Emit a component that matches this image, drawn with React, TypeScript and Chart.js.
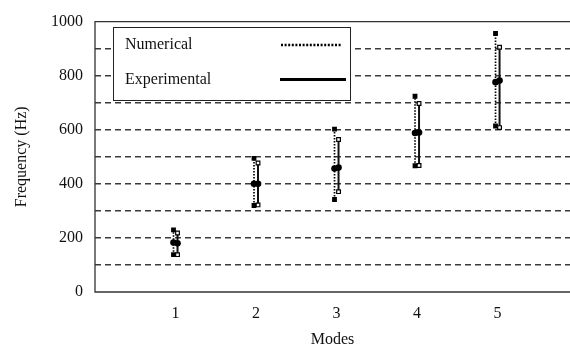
import React, { useEffect, useRef } from "react";
import { Chart, registerables } from "chart.js";

Chart.register(...registerables);

const modes = [1, 2, 3, 4, 5];
const numMin = [138, 320, 342, 467, 614];
const numMax = [230, 494, 602, 724, 956];
const numMid = [183, 400, 457, 588, 776];
const expMin = [138, 322, 371, 468, 608];
const expMax = [218, 477, 564, 697, 905];
const expMid = [180, 400, 460, 590, 782];
const yTickValues = [0, 100, 200, 300, 400, 500, 600, 700, 800, 900, 1000];
const legendLabels = ["Numerical", "Experimental"];

const FONT = "'Liberation Serif', 'Times New Roman', serif";
const OFF = 0.025;

function segments(mins: number[], maxs: number[], dx: number) {
  const out: any[] = [];
  modes.forEach((m, i) => {
    out.push({ x: m + dx, y: mins[i] });
    out.push({ x: m + dx, y: maxs[i] });
    out.push({ x: m + dx, y: null });
  });
  return out;
}

const framePlugin = {
  id: "frame",
  beforeDatasetsDraw(chart: any) {
    const { ctx, chartArea } = chart;
    ctx.save();
    ctx.setLineDash([]);
    ctx.strokeStyle = "#333";
    ctx.lineWidth = 1.3;
    ctx.beginPath();
    ctx.moveTo(chart.width, chartArea.top);
    ctx.lineTo(chartArea.left, chartArea.top);
    ctx.lineTo(chartArea.left, chartArea.bottom);
    ctx.lineTo(chart.width, chartArea.bottom);
    ctx.stroke();
    ctx.restore();
  },
};

const legendPlugin = {
  id: "boxLegend",
  afterDraw(chart: any) {
    const { ctx } = chart;
    const x0 = 113, y0 = 27, x1 = 350, y1 = 100;
    ctx.save();
    ctx.setLineDash([]);
    ctx.fillStyle = "#fff";
    ctx.fillRect(x0, y0, x1 - x0, y1 - y0);
    ctx.strokeStyle = "#222";
    ctx.lineWidth = 1;
    ctx.strokeRect(x0 + 0.5, y0 + 0.5, x1 - x0, y1 - y0);
    ctx.fillStyle = "#111";
    ctx.font = `16px ${FONT}`;
    ctx.textBaseline = "middle";
    ctx.textAlign = "left";
    ctx.fillText(legendLabels[0], 125, 45);
    ctx.fillText(legendLabels[1], 125, 80);
    ctx.strokeStyle = "#000";
    ctx.lineWidth = 2.5;
    ctx.setLineDash([2, 1.6]);
    ctx.beginPath();
    ctx.moveTo(281, 45);
    ctx.lineTo(341, 45);
    ctx.stroke();
    ctx.setLineDash([]);
    ctx.lineWidth = 3;
    ctx.beginPath();
    ctx.moveTo(280, 79.5);
    ctx.lineTo(346, 79.5);
    ctx.stroke();
    ctx.restore();
  },
};

export default function App() {
  const ref = useRef<HTMLCanvasElement>(null);
  useEffect(() => {
    document.body.style.margin = "0";
    const chart = new Chart(ref.current as HTMLCanvasElement, {
      type: "line",
      data: {
        datasets: [
          {
            label: "Numerical mid",
            data: modes.map((m, i) => ({ x: m - OFF, y: numMid[i] })),
            showLine: false,
            pointStyle: "circle",
            pointRadius: 3.3,
            backgroundColor: "#000",
            borderColor: "#000",
            borderWidth: 0,
          },
          {
            label: "Experimental mid",
            data: modes.map((m, i) => ({ x: m + OFF, y: expMid[i] })),
            showLine: false,
            pointStyle: "circle",
            pointRadius: 3.3,
            backgroundColor: "#000",
            borderColor: "#000",
            borderWidth: 0,
          },
          {
            label: "Experimental",
            data: segments(expMin, expMax, OFF),
            borderColor: "#111",
            borderWidth: 2,
            spanGaps: false,
            pointStyle: "rect",
            pointRadius: 2.6,
            pointBackgroundColor: "#fff",
            pointBorderColor: "#000",
            pointBorderWidth: 1.2,
          },
          {
            label: "Numerical",
            data: segments(numMin, numMax, -OFF),
            borderColor: "#000",
            borderWidth: 1.7,
            borderDash: [1.5, 1.5],
            spanGaps: false,
            pointStyle: "rect",
            pointRadius: 3.4,
            pointBackgroundColor: "#000",
            pointBorderColor: "#000",
            pointBorderWidth: 0,
          },
        ],
      },
      options: {
        animation: false,
        responsive: false,
        devicePixelRatio: 1,
        layout: { autoPadding: false, padding: { top: 20, right: 0, left: 0, bottom: 0 } },
        plugins: { legend: { display: false }, tooltip: { enabled: false } },
        scales: {
          x: {
            type: "linear",
            min: 0,
            max: 5.9,
            grid: { display: false, drawTicks: false },
            border: { display: false },
            afterBuildTicks: (scale: any) => {
              scale.ticks = modes.map((v) => ({ value: v }));
            },
            afterFit: (scale: any) => {
              scale.height = 60;
            },
            ticks: {
              padding: 12,
              color: "#111",
              font: { family: FONT, size: 16 },
              callback: (v: any) => String(v),
            },
            title: {
              display: true,
              text: "Modes",
              color: "#111",
              font: { family: FONT, size: 16 },
              padding: { top: 0, bottom: 3 },
            },
          },
          y: {
            min: 0,
            max: 1000,
            afterBuildTicks: (scale: any) => {
              scale.ticks = yTickValues.map((v) => ({ value: v }));
            },
            afterFit: (scale: any) => {
              scale.width = 95;
            },
            grid: {
              drawTicks: false,
              lineWidth: 1.4,
              color: (c: any) =>
                c.tick && (c.tick.value === 0 || c.tick.value === 1000)
                  ? "rgba(0,0,0,0)"
                  : "#3a3a3a",
            },
            border: { display: false, dash: [6, 4] },
            ticks: {
              padding: 12,
              color: "#111",
              font: { family: FONT, size: 16 },
              callback: (v: any) => (Number(v) % 200 === 0 ? String(v) : ""),
            },
            title: {
              display: true,
              text: "Frequency (Hz)",
              color: "#111",
              font: { family: FONT, size: 16 },
              padding: { top: 12, bottom: 0 },
            },
          },
        },
      },
      plugins: [framePlugin, legendPlugin],
    });
    return () => chart.destroy();
  }, []);
  return (
    <div style={{ position: "absolute", left: 0, top: 0 }}>
      <canvas ref={ref} width={570} height={352} />
    </div>
  );
}
